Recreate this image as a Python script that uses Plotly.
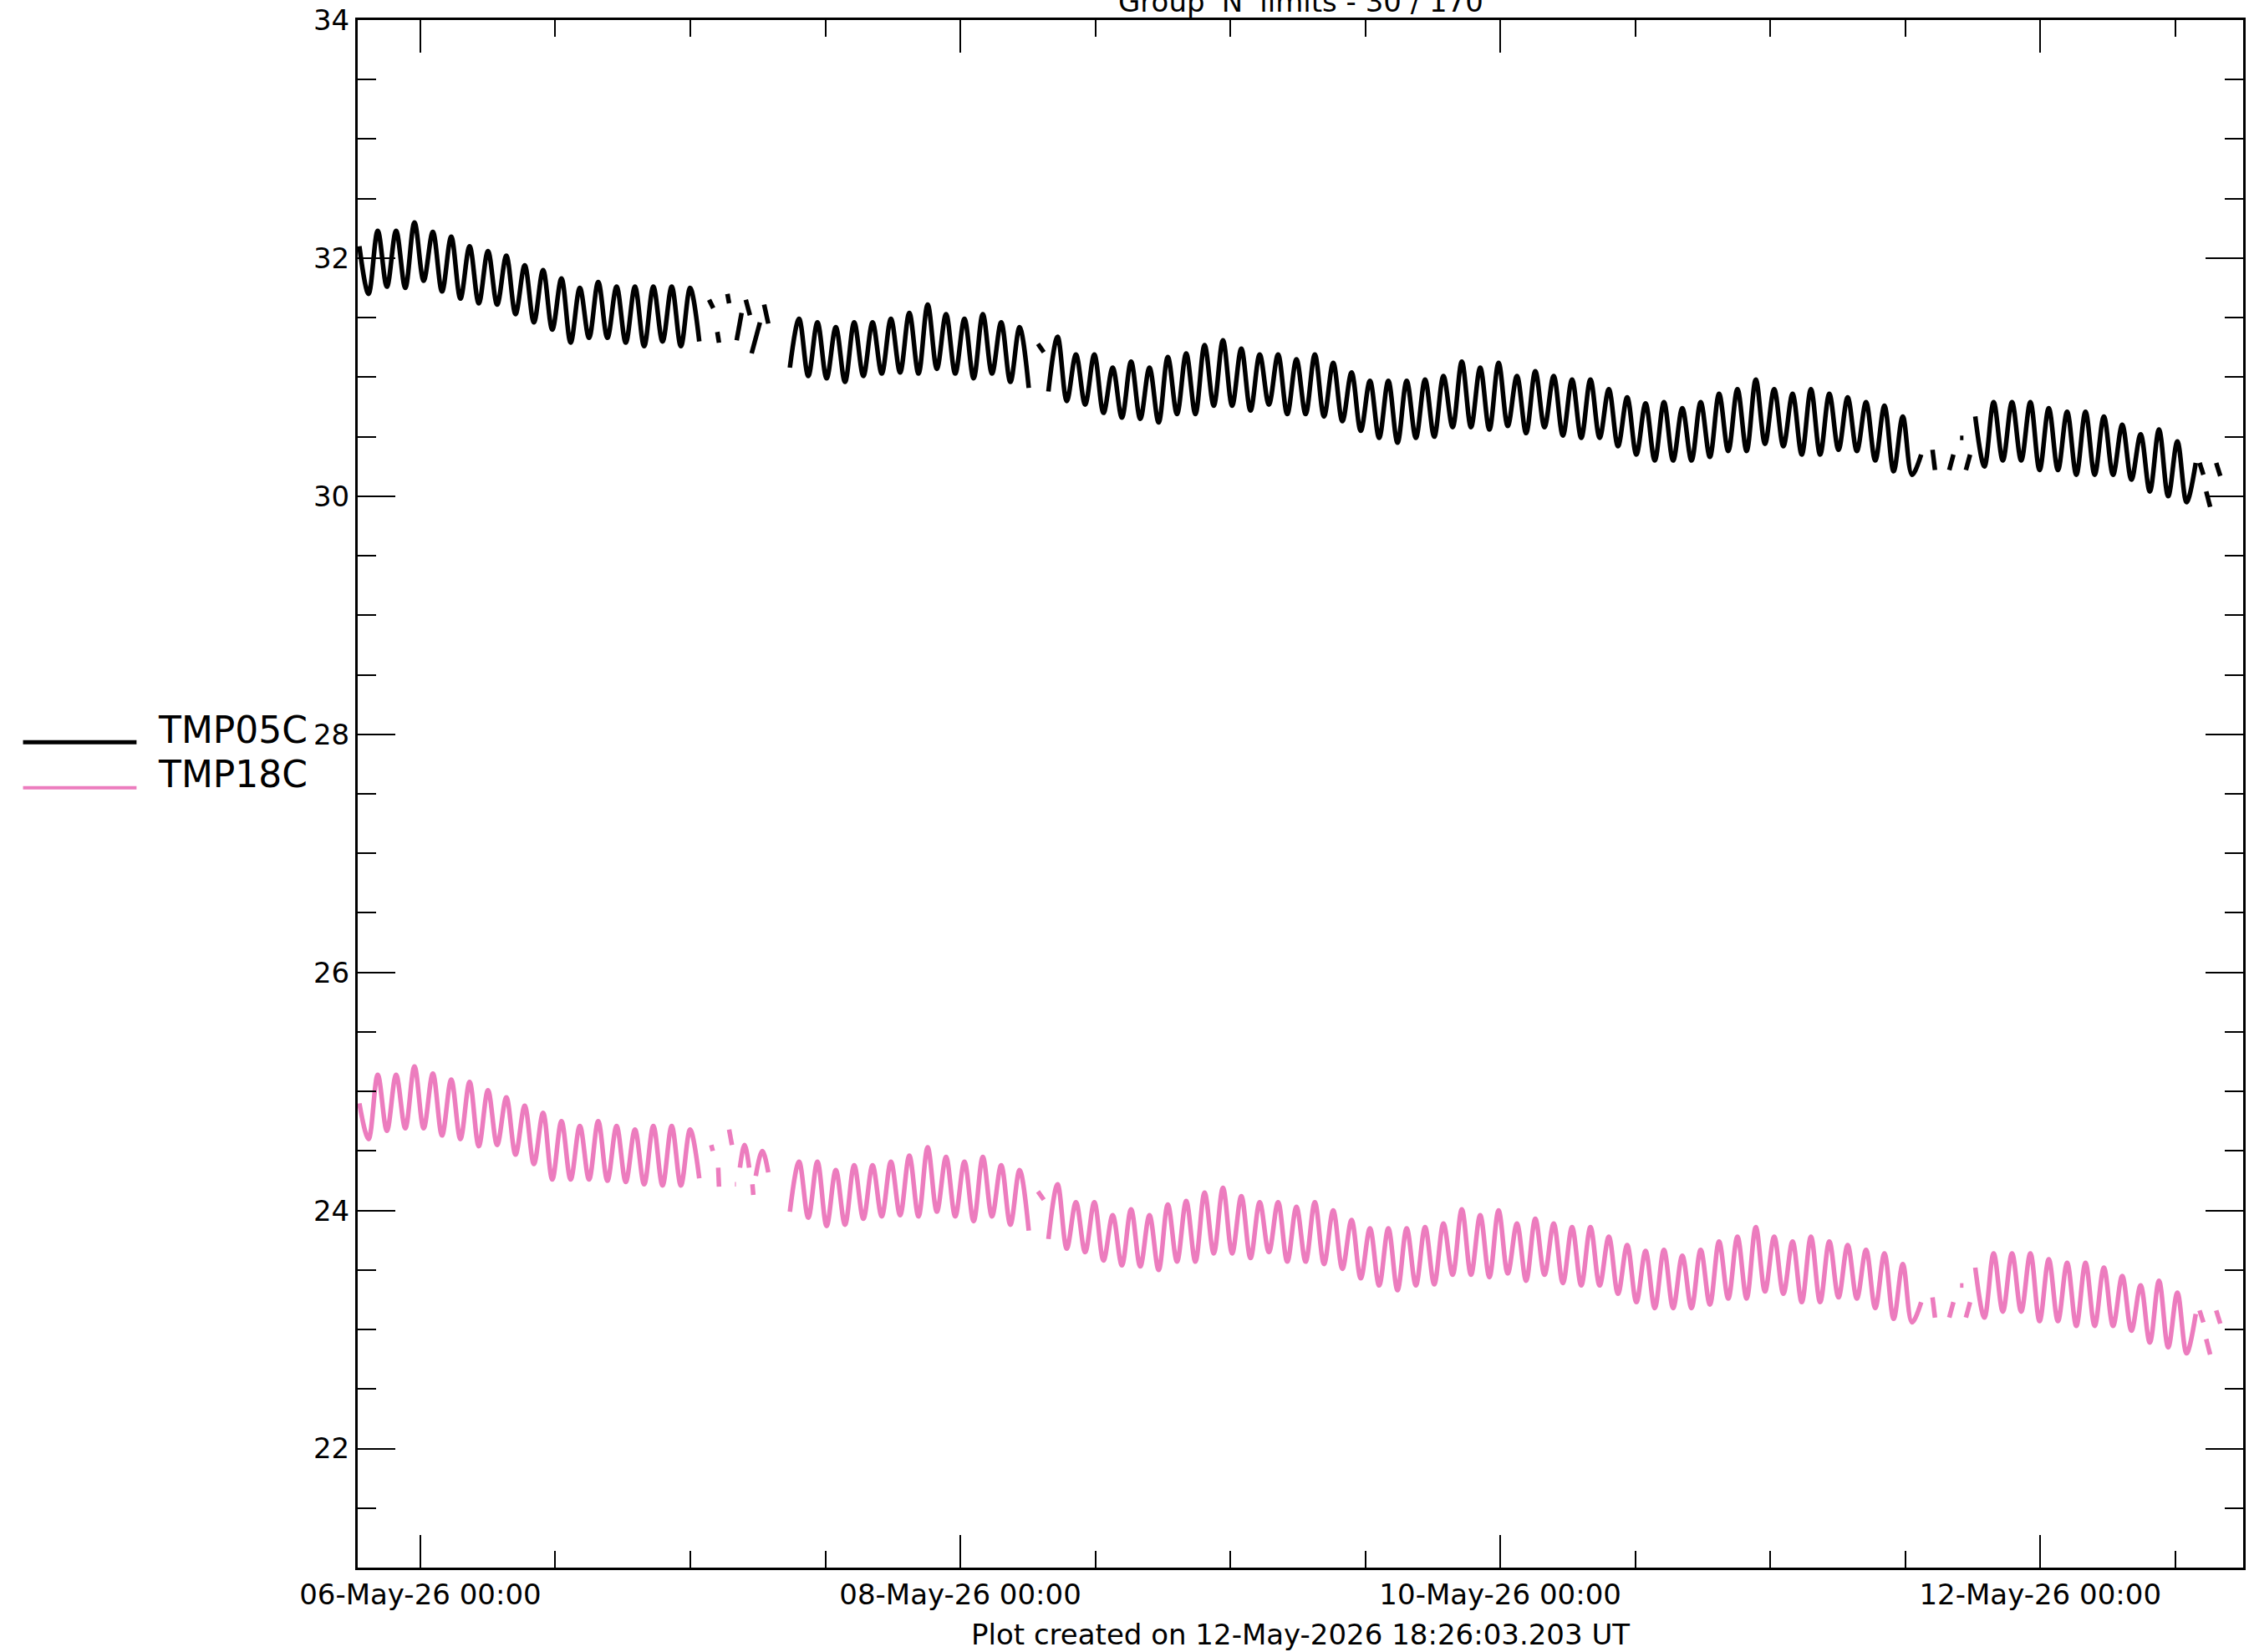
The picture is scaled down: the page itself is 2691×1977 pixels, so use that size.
import plotly.graph_objects as go
from datetime import datetime, timedelta

# ---------------- data ----------------
BASE = datetime(2026, 5, 6, 0, 0)          # hours below are relative to this
STEP_MIN = 49                               # spacing of the listed extremes (minutes)
X_RANGE = ["2026-05-05 18:26", "2026-05-12 18:02"]

# TMP05C  (black) : segment start hour, then successive extreme values
tmp05_A_start = -5.42
tmp05_A = [32.10, 31.70, 32.23, 31.76, 32.23, 31.75, 32.30, 31.81, 32.22, 31.72, 32.18, 31.66,
           32.10, 31.62, 32.06, 31.61, 32.02, 31.53, 31.94, 31.46, 31.90, 31.40, 31.83, 31.29,
           31.75, 31.33, 31.80, 31.33, 31.76, 31.29, 31.76, 31.26, 31.76, 31.30, 31.76, 31.26,
           31.75, 31.30]
tmp05_B_start = 32.85
tmp05_B = [31.08, 31.49, 31.01, 31.46, 30.99, 31.42, 30.96, 31.46, 31.01, 31.46, 31.03, 31.49,
           31.04, 31.54, 31.03, 31.61, 31.07, 31.53, 31.03, 31.49, 30.99, 31.53, 31.03, 31.46,
           30.96, 31.42, 30.91]
tmp05_C_start = 55.83
tmp05_C = [30.88, 31.34, 30.80, 31.19, 30.77, 31.19, 30.70, 31.08, 30.66, 31.13, 30.65, 31.08,
           30.62, 31.17, 30.69, 31.20, 30.69, 31.27, 30.76, 31.31, 30.76, 31.24, 30.72, 31.19,
           30.77, 31.19, 30.69, 31.15, 30.69, 31.19, 30.67, 31.12, 30.63, 31.04, 30.55, 30.97,
           30.49, 30.97, 30.45, 30.97, 30.49, 30.98, 30.50, 31.01, 30.58, 31.13, 30.58, 31.08,
           30.56, 31.12, 30.59, 31.01, 30.53, 31.05, 30.58, 31.01, 30.51, 30.98, 30.49, 30.98,
           30.49, 30.90, 30.42, 30.83, 30.35, 30.78, 30.30, 30.79, 30.30, 30.74, 30.30, 30.79,
           30.33, 30.86, 30.38, 30.90, 30.38, 30.98, 30.44, 30.90, 30.42, 30.86, 30.35, 30.90,
           30.35, 30.86, 30.39, 30.83, 30.38, 30.79, 30.30, 30.76, 30.21, 30.67, 30.18, 30.35]
tmp05_D_start = 138.22
tmp05_D = [30.67, 30.25, 30.79, 30.30, 30.79, 30.30, 30.79, 30.22, 30.74, 30.22, 30.71, 30.18,
           30.71, 30.18, 30.67, 30.18, 30.60, 30.14, 30.52, 30.04, 30.56, 30.00, 30.46, 29.95,
           30.28]
# sparse fragments inside data gaps: [[hour, value], ...]
tmp05_frags = [
    [[25.67, 31.65], [26.04, 31.58]], [[26.40, 31.38], [26.55, 31.29]],
    [[27.30, 31.70], [27.45, 31.62]], [[28.12, 31.31], [28.56, 31.54]],
    [[28.93, 31.65], [29.30, 31.52]], [[29.45, 31.20], [30.19, 31.46]],
    [[30.56, 31.61], [30.93, 31.45]], [[54.90, 31.28], [55.42, 31.21]],
    [[134.42, 30.39], [134.64, 30.22]], [[135.91, 30.22], [136.28, 30.35]],
    [[136.87, 30.49], [137.17, 30.49]], [[137.39, 30.22], [137.76, 30.35]],
    [[158.16, 30.28], [158.50, 30.18]], [[158.75, 30.04], [159.10, 29.91]],
    [[159.64, 30.28], [160.00, 30.17]],
]

# TMP18C  (pink)
tmp18_A_start = -5.42
tmp18_A = [24.90, 24.60, 25.14, 24.67, 25.14, 24.69, 25.21, 24.69, 25.15, 24.63, 25.10, 24.60,
           25.08, 24.54, 25.01, 24.55, 24.95, 24.47, 24.88, 24.39, 24.82, 24.26, 24.75, 24.26,
           24.71, 24.26, 24.75, 24.25, 24.71, 24.24, 24.68, 24.22, 24.71, 24.21, 24.71, 24.21,
           24.68, 24.27]
tmp18_B_start = 32.85
tmp18_B = [23.99, 24.41, 23.94, 24.41, 23.87, 24.34, 23.88, 24.38, 23.93, 24.38, 23.95, 24.41,
           23.96, 24.46, 23.95, 24.53, 23.99, 24.45, 23.95, 24.41, 23.91, 24.45, 23.95, 24.38,
           23.88, 24.34, 23.83]
tmp18_C_start = 55.83
tmp18_C = [23.76, 24.22, 23.68, 24.07, 23.65, 24.07, 23.58, 23.96, 23.54, 24.01, 23.53, 23.96,
           23.50, 24.05, 23.57, 24.08, 23.57, 24.15, 23.64, 24.19, 23.64, 24.12, 23.60, 24.07,
           23.65, 24.07, 23.57, 24.03, 23.57, 24.07, 23.55, 24.00, 23.51, 23.92, 23.43, 23.85,
           23.37, 23.85, 23.33, 23.85, 23.37, 23.86, 23.38, 23.89, 23.46, 24.01, 23.46, 23.96,
           23.44, 24.00, 23.47, 23.89, 23.41, 23.93, 23.46, 23.89, 23.39, 23.86, 23.37, 23.86,
           23.37, 23.78, 23.30, 23.71, 23.23, 23.66, 23.18, 23.67, 23.18, 23.62, 23.18, 23.67,
           23.21, 23.74, 23.26, 23.78, 23.26, 23.86, 23.32, 23.78, 23.30, 23.74, 23.23, 23.78,
           23.23, 23.74, 23.27, 23.71, 23.26, 23.67, 23.18, 23.64, 23.09, 23.55, 23.06, 23.23]
tmp18_D_start = 138.22
tmp18_D = [23.52, 23.10, 23.64, 23.15, 23.64, 23.15, 23.64, 23.07, 23.59, 23.07, 23.56, 23.03,
           23.56, 23.03, 23.52, 23.03, 23.45, 22.99, 23.37, 22.89, 23.41, 22.85, 23.31, 22.80,
           23.13]
tmp18_frags = [
    [[25.86, 24.55], [26.00, 24.50]], [[26.48, 24.36], [26.55, 24.20]],
    [[27.45, 24.68], [27.70, 24.55]], [[27.97, 24.22], [28.05, 24.22]],
    [[28.41, 24.36], [28.82, 24.55], [29.23, 24.36]], [[29.52, 24.22], [29.60, 24.13]],
    [[29.82, 24.29], [30.40, 24.50], [30.93, 24.32]], [[54.90, 24.16], [55.42, 24.09]],
    [[134.42, 23.27], [134.64, 23.10]], [[135.91, 23.10], [136.28, 23.23]],
    [[136.87, 23.37], [137.17, 23.37]], [[137.39, 23.10], [137.76, 23.23]],
    [[158.16, 23.16], [158.50, 23.06]], [[158.75, 22.92], [159.10, 22.79]],
    [[159.64, 23.16], [160.00, 23.05]],
]

PINK = "#EC7CBE"
SERIES = [
    ("TMP05C", "#000000",
     [(tmp05_A_start, tmp05_A), (tmp05_B_start, tmp05_B), (tmp05_C_start, tmp05_C), (tmp05_D_start, tmp05_D)],
     tmp05_frags),
    ("TMP18C", PINK,
     [(tmp18_A_start, tmp18_A), (tmp18_B_start, tmp18_B), (tmp18_C_start, tmp18_C), (tmp18_D_start, tmp18_D)],
     tmp18_frags),
]


def build(segments, frags):
    xs, ys = [], []
    for h0, vals in segments:
        for i, v in enumerate(vals):
            xs.append(BASE + timedelta(hours=h0) + timedelta(minutes=STEP_MIN * i))
            ys.append(v)
        xs.append(None)
        ys.append(None)
    for fr in frags:
        for h, v in fr:
            xs.append(BASE + timedelta(hours=h))
            ys.append(v)
        xs.append(None)
        ys.append(None)
    return xs, ys


fig = go.Figure()
for name, color, segs, frags in SERIES:
    x, y = build(segs, frags)
    fig.add_trace(go.Scatter(x=x, y=y, mode="lines", name=name, connectgaps=False,
                             line=dict(color=color, width=5.5, shape="spline", smoothing=1.0)))

FONT = "DejaVu Sans"
fig.update_layout(
    width=2691, height=1977,
    margin=dict(l=428, r=4, t=22, b=101),
    plot_bgcolor="white", paper_bgcolor="white",
    showlegend=False,
    font=dict(family=FONT, size=34, color="black"),
)
fig.update_xaxes(
    type="date", range=X_RANGE,
    showgrid=False, zeroline=False,
    showline=True, linecolor="black", linewidth=3, mirror="ticks",
    ticks="inside", ticklen=39, tickwidth=2, tickcolor="black",
    tick0="2026-05-06", dtick=2 * 24 * 3600 * 1000, tickformat="%d-%b-%y %H:%M",
    tickfont=dict(family=FONT, size=34, color="black"),
    minor=dict(ticks="inside", dtick=12 * 3600 * 1000, tick0="2026-05-06",
               ticklen=20, tickwidth=2, tickcolor="black", showgrid=False),
)
fig.update_yaxes(
    range=[21, 34],
    showgrid=False, zeroline=False,
    showline=True, linecolor="black", linewidth=3, mirror="ticks",
    ticks="inside", ticklen=45, tickwidth=2, tickcolor="black",
    tick0=0, dtick=2,
    tickfont=dict(family=FONT, size=34, color="black"),
    minor=dict(ticks="inside", dtick=0.5, ticklen=22, tickwidth=2, tickcolor="black", showgrid=False),
)

# legend drawn at the left, outside the plot area
LEG = [("TMP05C", "#000000", 0.5334, 0.5415, 5), ("TMP18C", PINK, 0.5039, 0.5129, 4)]
for name, color, yl, yt, w in LEG:
    fig.add_shape(type="line", xref="paper", yref="paper", x0=-0.1775, x1=-0.1173, y0=yl, y1=yl,
                  line=dict(color=color, width=w))
    fig.add_annotation(xref="paper", yref="paper", x=-0.1067, y=yt, text=name, showarrow=False,
                       xanchor="left", yanchor="middle", font=dict(family=FONT, size=44, color="black"))

fig.add_annotation(xref="paper", yref="paper", x=0.5, y=1.0, yanchor="bottom", xanchor="center",
                   text="Group 'N' limits - 30 / 170", showarrow=False,
                   font=dict(family=FONT, size=34, color="black"))
fig.add_annotation(xref="paper", yref="paper", x=0.5, y=-0.0432, yanchor="middle", xanchor="center",
                   text="Plot created on 12-May-2026 18:26:03.203 UT", showarrow=False,
                   font=dict(family=FONT, size=34, color="black"))

fig.write_html("out.html", config={"displayModeBar": False},
               post_script="document.body.style.margin='0';document.body.style.overflow='hidden';")
